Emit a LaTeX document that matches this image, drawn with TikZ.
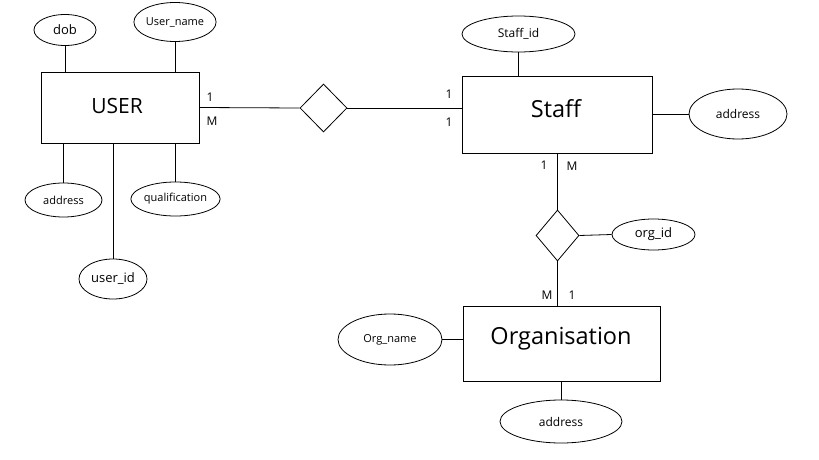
\documentclass[tikz,border=0pt]{standalone}
\usepackage{fontspec}
\setmainfont{Open Sans}
\usetikzlibrary{shapes.geometric}
\begin{document}
\begin{tikzpicture}[x=1pt,y=-1pt,line width=0.8pt,
  entity/.style={draw,rectangle,inner sep=0pt},
  attr/.style={draw,ellipse,inner sep=0pt,font=\fontsize{12}{12}\selectfont},
  rel/.style={draw,diamond,inner sep=0pt},
  card/.style={inner sep=0pt,font=\fontsize{12}{12}\selectfont}]
\useasboundingbox (0,0) rectangle (819,460);
% entities
\node[entity,minimum width=158pt,minimum height=71pt] (user) at (120,107.5) {};
\node[inner sep=0pt,font=\fontsize{21}{21}\selectfont] (usertxt) at (117,106) {USER};
\node[entity,minimum width=190pt,minimum height=77pt] (staff) at (557,114.5) {};
\node[inner sep=0pt,font=\fontsize{23.5}{23.5}\selectfont] (stafftxt) at (556,109) {Staff};
\node[entity,minimum width=197pt,minimum height=75pt] (org) at (561.5,343.5) {};
\node[inner sep=0pt,font=\fontsize{23.5}{23.5}\selectfont] (orgtxt) at (561,339) {Organisation};
% relationships
\node[rel,minimum width=47pt,minimum height=48pt] (r1) at (323.5,108) {};
\node[rel,minimum width=43pt,minimum height=51pt] (r2) at (557.5,235.5) {};
% user attributes
\node[attr,minimum width=62pt,minimum height=31pt,font=\fontsize{13}{13}\selectfont] (dob) at (65,30) {dob};
\node[attr,minimum width=69pt,minimum height=39pt,font=\fontsize{11}{11}\selectfont] (uname) at (175,22) {User\_name};
\node[attr,minimum width=77pt,minimum height=34pt,font=\fontsize{11}{11}\selectfont] (uaddr) at (63.5,200) {address};
\node[attr,minimum width=83pt,minimum height=34pt,font=\fontsize{11}{11}\selectfont] (qual) at (175.5,199) {qualification};
\node[attr,minimum width=68pt,minimum height=40pt,font=\fontsize{13}{13}\selectfont] (uid) at (113,279) {user\_id};
% staff attributes
\node[attr,minimum width=113pt,minimum height=36pt] (sid) at (518.5,34) {Staff\_id};
\node[attr,minimum width=98pt,minimum height=50pt] (saddr) at (738,114) {address};
% relation attribute
\node[attr,minimum width=83pt,minimum height=31pt,font=\fontsize{13}{13}\selectfont] (oid) at (653.5,234.5) {org\_id};
% organisation attributes
\node[attr,minimum width=104pt,minimum height=51pt,font=\fontsize{11}{11}\selectfont] (oname) at (390,339.5) {Org\_name};
\node[attr,minimum width=122pt,minimum height=43pt] (oaddr) at (561,421.5) {address};
% attribute connectors
\draw (dob.south) -- (dob.south |- user.north);
\draw (uname.south) -- (uname.south |- user.north);
\draw (uaddr.north) -- (uaddr.north |- user.south);
\draw (qual.north) -- (qual.north |- user.south);
\draw (uid.north) -- (uid.north |- user.south);
\draw (sid.south) -- (sid.south |- staff.north);
\draw (saddr.west) -- (saddr.west -| staff.east);
\draw (r2.east) -- (oid.west);
\draw (oname.east) -- (oname.east -| org.west);
\draw (oaddr.north) -- (oaddr.north |- org.south);
% relationship connectors
\draw (user.east) -- (r1.west);
\draw (r1.east) -- (r1.east -| staff.west);
\draw (r2.north |- staff.south) -- (r2.north);
\draw (r2.south) -- (r2.south |- org.north);
% cardinalities
\node[card] (c1) at (210,97) {1};
\node[card] (c2) at (212,121) {M};
\node[card] (c3) at (449,94) {1};
\node[card] (c4) at (449,122) {1};
\node[card] (c5) at (544,165) {1};
\node[card] (c6) at (572,166) {M};
\node[card] (c7) at (547,295) {M};
\node[card] (c8) at (572,295) {1};
\end{tikzpicture}
\end{document}
